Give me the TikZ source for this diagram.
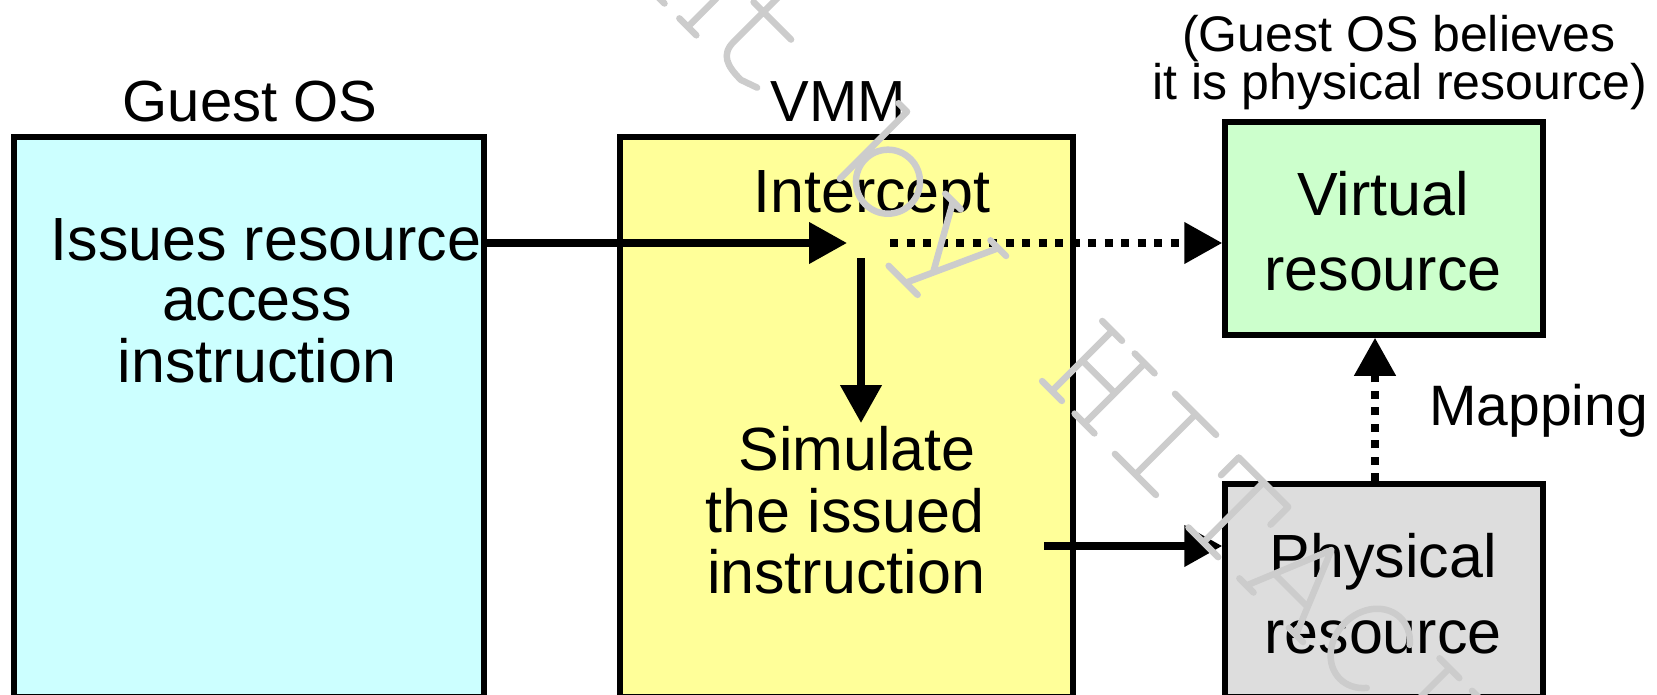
\documentclass[tikz,border=0pt]{standalone}
\usepackage{fontspec}
\setmainfont{Liberation Sans}
\usetikzlibrary{arrows.meta}
\definecolor{guestfill}{HTML}{CCFFFF}
\definecolor{vmmfill}{HTML}{FFFF99}
\definecolor{virtfill}{HTML}{CCFFCC}
\definecolor{physfill}{HTML}{DDDDDD}
\definecolor{markgray}{HTML}{CCCCCC}
\tikzset{
  panel/.style={draw=black, line width=5.5pt, inner sep=0pt},
  txt/.style={inner sep=0pt, anchor=base, font=\fontsize{61}{61}\selectfont},
  hdtxt/.style={inner sep=0pt, anchor=base, font=\fontsize{58}{58}\selectfont},
  notetxt/.style={inner sep=0pt, anchor=base, font=\fontsize{50}{50}\selectfont},
  flow/.style={line width=7.5pt, -{Triangle[length=38pt,width=40pt]}},
  dotflow/.style={flow, dash pattern=on 8pt off 8.5pt},
  wmark/.style={draw=markgray, line width=6.5pt, line cap=round, line join=round}
}
\begin{document}
\begin{tikzpicture}[x=1pt,y=-1pt]
\path[use as bounding box] (0,0) rectangle (1657,695);
\clip (0,0) rectangle (1657,695);

% panels
\node[panel, fill=guestfill, minimum width=470pt, minimum height=560pt] (guest) at (249,417) {};
\node[panel, fill=vmmfill, minimum width=453pt, minimum height=560pt] (vmm) at (846.5,417) {};
\node[panel, fill=virtfill, minimum width=318pt, minimum height=213pt] (virt) at (1384,228.5) {};
\node[panel, fill=physfill, minimum width=318pt, minimum height=213pt] (phys) at (1384,590.5) {};

% titles and captions
\node[hdtxt] (guesttitle) at (250,122) {Guest OS};
\node[hdtxt] (vmmtitle) at (838,122) {VMM};
\node[notetxt] (note1) at (1399,52) {(Guest OS believes};
\node[notetxt] (note2) at (1400,100) {it is physical resource)};

\node[txt] (g1) at (266,260) {Issues resource};
\node[txt] (g2) at (257,320) {access};
\node[txt] (g3) at (257,382) {instruction};

\node[txt] (icpt) at (872,213) {Intercept};
\node[txt] (s1) at (857,470) {Simulate};
\node[txt] (s2) at (845,532) {the issued};
\node[txt] (s3) at (846,593) {instruction};

\node[txt] (v1) at (1383,215) {Virtual};
\node[txt] (v2) at (1383,290) {resource};
\node[txt] (p1) at (1383,577) {Physical};
\node[txt] (p2) at (1383,653) {resource};
\node[txt, anchor=base west, font=\fontsize{57}{57}\selectfont] (map) at (1429,425) {Mapping};

% connectors
\coordinate (icp) at (847,243);
\coordinate (dotstart) at (890,243);
\coordinate (downtop) at (861,258);
\coordinate (downtip) at (861,423);
\coordinate (simout) at (1044,546);
\coordinate (mapfoot) at (1375,484);

\draw[flow] (guest.east |- icp) -- (icp);
\draw[dotflow] (dotstart) -- (virt.west |- icp);
\draw[flow] (downtop) -- (downtip);
\draw[flow] (simout) -- (phys.west |- simout);
\draw[dotflow] (phys.north -| mapfoot) -- (virt.south -| mapfoot);

% diagonal copyright mark, single-stroke letters
\begin{scope}[shift={(1052,391)}, rotate=-45, x=1pt, y=1pt]
  % h
  \path[wmark] (-560,0) -- (-560,100) (-572,100) -- (-560,100)
    (-560,40) .. controls (-548,62) and (-515,62) .. (-515,40) -- (-515,0)
    (-572,0) -- (-548,0) (-527,0) -- (-503,0);
  % t
  \path[wmark] (-472,110) -- (-472,22) .. controls (-472,4) and (-460,0) .. (-440,0) -- (-423,6)
    (-486,64) -- (-433,64);
  % b
  \path[wmark] (-300,0) -- (-300,95) -- (-312,95);
  \path[wmark] (-264,32) circle[radius=32];
  % y
  \path[wmark] (-204,64) -- (-168,0) (-139,63) -- (-180,-27)
    (-204,-27) -- (-163,-27) (-215,64) -- (-193,64) (-150,63) -- (-128,63);
  % H
  \path[wmark] (0,0) -- (0,85) (46,0) -- (46,85) (0,43) -- (46,43)
    (-14,0) -- (14,0) (32,0) -- (60,0) (-14,85) -- (14,85) (32,85) -- (60,85);
  % I
  \path[wmark] (118,0) -- (118,85) (89,0) -- (147,0) (89,85) -- (147,85);
  % T
  \path[wmark] (179,60) -- (179,85) -- (249,85) -- (249,60)
    (214,85) -- (214,0) (193,0) -- (235,0);
  % A
  \path[wmark] (275,0) -- (310,85) -- (345,0) (289,28) -- (331,28)
    (265,0) -- (285,0) (335,0) -- (355,0);
  % C
  \path[wmark] (432.5,73.4) arc[start angle=45, end angle=315, x radius=36, y radius=43];
  % H
  \path[wmark] (477,0) -- (477,85) (523,0) -- (523,85) (477,43) -- (523,43)
    (463,0) -- (491,0) (509,0) -- (537,0) (463,85) -- (491,85) (509,85) -- (537,85);
  % I
  \path[wmark] (595,0) -- (595,85) (566,0) -- (624,0) (566,85) -- (624,85);
\end{scope}
\end{tikzpicture}
\end{document}
